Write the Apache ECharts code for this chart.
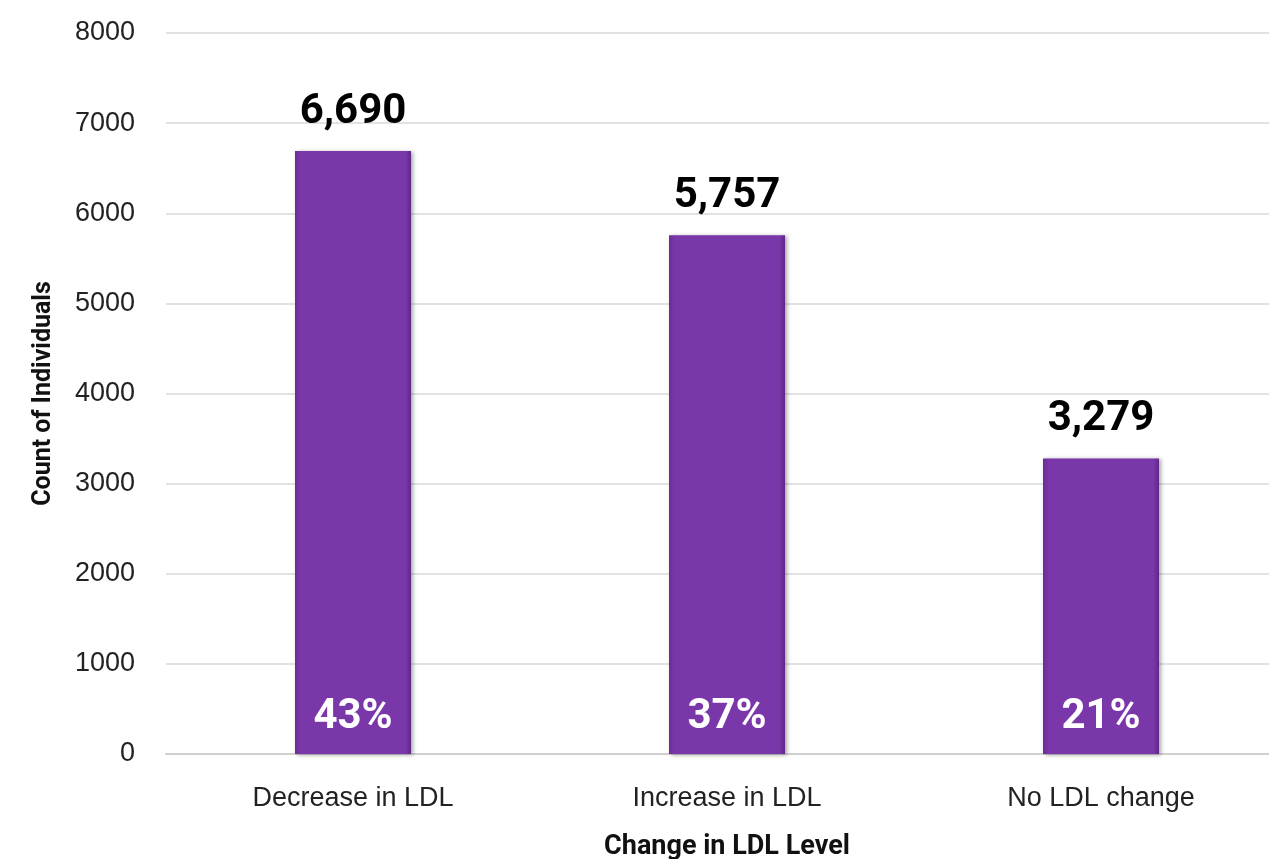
<!DOCTYPE html>
<html lang="en">
<head>
    <meta charset="UTF-8">
    <title>Change in LDL Level</title>
    <script src="https://cdn.jsdelivr.net/npm/echarts@6/dist/echarts.min.js"></script>
    <style>
        html, body { margin: 0; padding: 0; background: #fff; overflow: hidden; }
        #main { width: 1300px; height: 859px; }
    </style>
</head>
<body>
<div id="main"></div>
<script>
    // chart data
    var categories = ['Decrease in LDL', 'Increase in LDL', 'No LDL change'];
    var counts = [6690, 5757, 3279];
    var percents = ['43%', '37%', '21%'];

    var narrow = '"Liberation Sans Narrow", "Roboto", Arial, sans-serif';
    var plain = 'Arial, "Liberation Sans", sans-serif';

    var chart = echarts.init(document.getElementById('main'));
    var option = {
        animation: false,
        grid: { left: 166, top: 33, width: 1122, height: 721, outerBoundsMode: 'none', containLabel: false },
        xAxis: {
            type: 'category',
            data: categories,
            name: 'Change in LDL Level',
            nameLocation: 'middle',
            nameGap: 80,
            nameTextStyle: { fontFamily: narrow, fontWeight: 'bold', fontSize: 27, color: '#111' },
            axisLine: { lineStyle: { color: '#d0d0d0', width: 2 } },
            axisTick: { show: false },
            axisLabel: { fontFamily: plain, fontSize: 27, color: '#222', margin: 31 }
        },
        yAxis: {
            type: 'value',
            min: 0, max: 8000, interval: 1000,
            name: 'Count of Individuals',
            nameLocation: 'middle',
            nameGap: 110,
            nameTextStyle: { fontFamily: narrow, fontWeight: 'bold', fontSize: 25, color: '#111' },
            axisLine: { show: false },
            axisTick: { show: false },
            axisLabel: {
                fontFamily: plain, fontSize: 27, color: '#222', margin: 31,
                formatter: function (v) { return String(v); }
            },
            splitLine: { lineStyle: { color: '#d9d9d9', width: 1.5 } }
        },
        series: [
            {
                type: 'bar',
                data: counts,
                barWidth: 116,
                itemStyle: {
                    color: new echarts.graphic.LinearGradient(0, 0, 1, 0, [
                        { offset: 0, color: '#6a2d96' },
                        { offset: 0.05, color: '#7a37aa' },
                        { offset: 0.95, color: '#7a37aa' },
                        { offset: 1, color: '#5e2886' }
                    ]),
                    shadowColor: 'rgba(0,0,0,0.35)',
                    shadowBlur: 4,
                    shadowOffsetX: 2,
                    shadowOffsetY: 1
                },
                label: {
                    show: true,
                    position: 'top',
                    distance: 18,
                    fontFamily: narrow,
                    fontWeight: 'bold',
                    fontSize: 42,
                    color: '#000',
                    formatter: function (p) { return p.value.toLocaleString('en-US'); }
                }
            },
            {
                type: 'bar',
                data: counts,
                barWidth: 116,
                barGap: '-100%',
                silent: true,
                itemStyle: { color: 'transparent' },
                label: {
                    show: true,
                    position: 'insideBottom',
                    distance: 16,
                    fontFamily: narrow,
                    fontWeight: 'bold',
                    fontSize: 42,
                    color: '#fff',
                    formatter: function (p) { return percents[p.dataIndex]; }
                }
            }
        ]
    };
    chart.setOption(option);
</script>
</body>
</html>
